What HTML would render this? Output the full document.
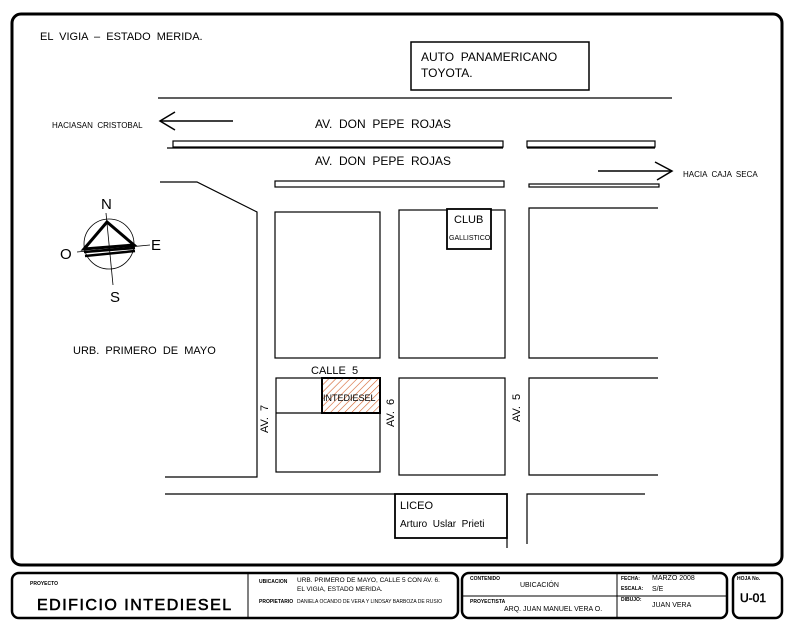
<!DOCTYPE html>
<html><head><meta charset="utf-8"><style>
html,body{margin:0;padding:0;background:#fff;}
svg{display:block;}
text{font-family:"Liberation Sans",sans-serif;fill:#000;white-space:pre;}
</style></head><body>
<svg width="792" height="620" viewBox="0 0 792 620" xmlns="http://www.w3.org/2000/svg" xml:space="preserve">
<defs>
<pattern id="h" width="5" height="5" patternUnits="userSpaceOnUse" patternTransform="rotate(45)">
<line x1="0" y1="0" x2="0" y2="5" stroke="#d2602a" stroke-width="1.2"/>
</pattern>
</defs>
<rect x="12" y="14" width="770" height="551" rx="9" fill="none" stroke="#000" stroke-width="3"/>
<g stroke="#000" fill="none" stroke-width="1.2">
<rect x="411" y="42" width="178" height="48" stroke-width="1.5"/>
<line x1="158" y1="98" x2="672" y2="98"/>
<line x1="160" y1="121" x2="233" y2="121" stroke-width="1.5"/>
<polyline points="175,112 160,121 175,130" stroke-width="1.5"/>
<rect x="173" y="141" width="330" height="6"/>
<line x1="167" y1="148" x2="503" y2="148"/>
<rect x="527" y="141" width="128" height="6"/>
<line x1="527" y1="148" x2="655" y2="148"/>
<rect x="275" y="181" width="229" height="6"/>
<rect x="529" y="184" width="130" height="3"/>
<line x1="598" y1="171" x2="672" y2="171" stroke-width="1.5"/>
<polyline points="655,162 672,171 657,180" stroke-width="1.5"/>
<polyline points="160,182 197,182 257,212 257,477 165,477"/>
<rect x="275" y="212" width="105" height="146"/>
<rect x="399" y="210" width="106" height="148"/>
<polyline points="658,208 529,208 529,358 658,358"/>
<rect x="447" y="209" width="44" height="40" stroke-width="1.8" fill="#fff"/>
<rect x="276" y="378" width="104" height="94"/>
<line x1="276" y1="413" x2="322" y2="413"/>
<rect x="322" y="378" width="58" height="35" fill="url(#h)" stroke-width="2"/>
<rect x="399" y="378" width="106" height="97"/>
<polyline points="658,378 529,378 529,475 658,475"/>
<line x1="165" y1="494" x2="395" y2="494"/>
<rect x="395" y="494" width="112" height="44" stroke-width="1.8"/>
<line x1="507" y1="538" x2="507" y2="548"/>
<polyline points="527,544 527,494 645,494"/>
<circle cx="109" cy="244" r="25" stroke-width="0.8"/>
<line x1="106" y1="213" x2="113" y2="285" stroke-width="0.8"/>
<line x1="77" y1="252" x2="150" y2="245" stroke-width="0.8"/>
<polygon points="107,222 84,249 134,245" stroke-width="3"/>
<line x1="84" y1="252" x2="135" y2="248" stroke-width="2.5"/>
<line x1="85" y1="256" x2="135" y2="251" stroke-width="2.5"/>
</g>
<text x="40" y="40" font-size="11">EL  VIGIA  –  ESTADO  MERIDA.</text>
<text x="383" y="128" font-size="12" text-anchor="middle">AV.  DON  PEPE  ROJAS</text>
<text x="383" y="165" font-size="12" text-anchor="middle">AV.  DON  PEPE  ROJAS</text>
<text x="421" y="61" font-size="12">AUTO  PANAMERICANO</text>
<text x="421" y="77" font-size="12">TOYOTA.</text>
<text x="52" y="128" font-size="8">HACIASAN  CRISTOBAL</text>
<text x="683" y="177" font-size="8">HACIA  CAJA  SECA</text>
<text x="454" y="223" font-size="11">CLUB</text>
<text x="449" y="240" font-size="7">GALLISTICO</text>
<text x="101" y="209" font-size="15">N</text>
<text x="110" y="302" font-size="15">S</text>
<text x="60" y="259" font-size="15">O</text>
<text x="151" y="250" font-size="15">E</text>
<text x="73" y="354" font-size="11">URB.  PRIMERO  DE  MAYO</text>
<text x="311" y="374" font-size="11">CALLE  5</text>
<text x="323" y="401" font-size="9">INTEDIESEL</text>
<text transform="translate(268,433) rotate(-90)" font-size="11">AV.  7</text>
<text transform="translate(394,427) rotate(-90)" font-size="11">AV.  6</text>
<text transform="translate(520,422) rotate(-90)" font-size="11">AV.  5</text>
<text x="400" y="509" font-size="11">LICEO</text>
<text x="400" y="527" font-size="10">Arturo  Uslar  Prieti</text>
<g stroke="#000" fill="none">
<rect x="12" y="573" width="446" height="45" rx="7" stroke-width="2.5"/>
<line x1="248" y1="573" x2="248" y2="618" stroke-width="1"/>
<rect x="462" y="573" width="265" height="45" rx="7" stroke-width="2.5"/>
<line x1="617" y1="573" x2="617" y2="618" stroke-width="1"/>
<line x1="462" y1="596" x2="727" y2="596" stroke-width="1"/>
<rect x="733" y="573" width="49" height="45" rx="7" stroke-width="2.5"/>
</g>
<text x="30" y="585" font-size="5" font-weight="bold">PROYECTO</text>
<text x="37" y="610" font-size="16" stroke="#000" stroke-width="0.6" fill="#fff" letter-spacing="1.5">EDIFICIO INTEDIESEL</text>
<text x="259" y="583" font-size="5" font-weight="bold">UBICACION</text>
<text x="297" y="582" font-size="6.5">URB. PRIMERO DE MAYO, CALLE 5 CON AV. 6.</text>
<text x="297" y="591" font-size="6.5">EL VIGIA, ESTADO MERIDA.</text>
<text x="259" y="603" font-size="5" font-weight="bold">PROPIETARIO</text>
<text x="297" y="603" font-size="5">DANIELA OCANDO DE VERA Y LINDSAY BARBOZA DE RUSIO</text>
<text x="470" y="580" font-size="5" font-weight="bold">CONTENIDO</text>
<text x="520" y="587" font-size="7">UBICACIÓN</text>
<text x="470" y="603" font-size="5" font-weight="bold">PROYECTISTA</text>
<text x="504" y="611" font-size="7">ARQ. JUAN MANUEL VERA O.</text>
<text x="621" y="580" font-size="5" font-weight="bold">FECHA:</text>
<text x="652" y="580" font-size="7">MARZO 2008</text>
<text x="621" y="590" font-size="5" font-weight="bold">ESCALA:</text>
<text x="652" y="591" font-size="7">S/E</text>
<text x="621" y="601" font-size="5" font-weight="bold">DIBUJO:</text>
<text x="652" y="607" font-size="7">JUAN VERA</text>
<text x="737" y="580" font-size="5" font-weight="bold">HOJA No.</text>
<text x="740" y="602" font-size="12" stroke="#000" stroke-width="0.5" fill="#fff">U-01</text>
</svg>
</body></html>
